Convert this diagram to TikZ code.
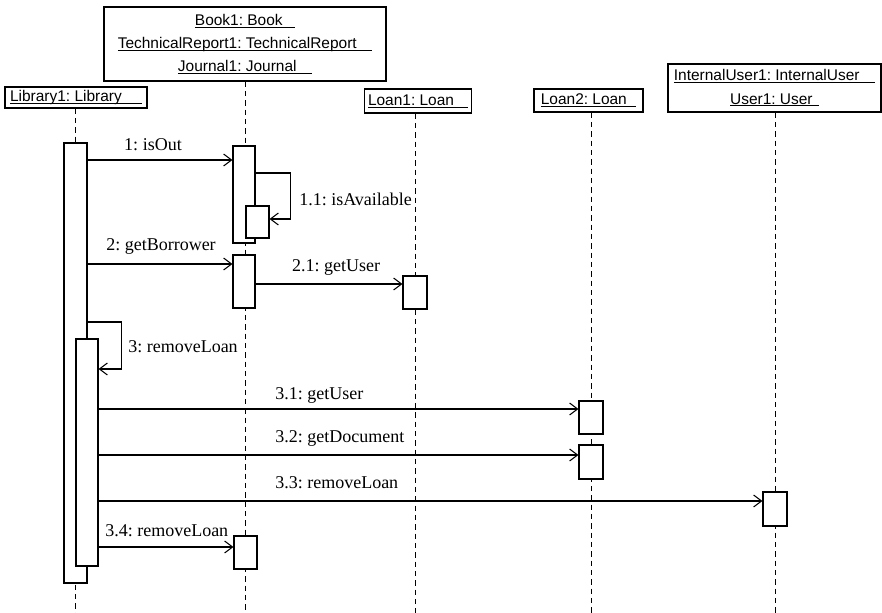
\documentclass[tikz,border=0pt]{standalone}
\usepackage{fontspec}
\setmainfont{Liberation Serif}
\newfontfamily\hdrfont{Liberation Sans}
\usetikzlibrary{arrows.meta}
\frenchspacing
\newsavebox\ulbox
\newcommand\ulx[2]{\sbox\ulbox{#1\hspace{#2}}\leavevmode\rlap{\rule[-1.6pt]{\wd\ulbox}{0.6pt}}\usebox\ulbox}
\begin{document}
\begin{tikzpicture}[x=0.75pt,y=-0.75pt,
  obj/.style={draw, line width=0.8pt, inner sep=0pt, align=center,
    font=\hdrfont\frenchspacing\fontsize{11.6}{17.4}\selectfont},
  act/.style={draw, fill=white, line width=0.8pt, minimum width=23*0.75pt, inner sep=0pt},
  life/.style={line width=0.7pt, dash pattern=on 4pt off 3pt},
  msg/.style={line width=0.8pt, -{Straight Barb[length=6pt,width=9pt]}},
  lbl/.style={font=\frenchspacing\fontsize{13.5}{16}\selectfont, inner sep=0pt, anchor=base west},
  clbl/.style={lbl, anchor=base}]
\useasboundingbox (0,0) rectangle (882,613);
% object headers
\node[obj, minimum width=282*0.75pt, minimum height=74*0.75pt] (book) at (245,44)
  {\ulx{Book1: Book}{0.8em}\\\ulx{TechnicalReport1: TechnicalReport}{1em}\\\ulx{Journal1: Journal}{1em}};
\node[obj, minimum width=142*0.75pt, minimum height=21*0.75pt] (lib) at (76,97.5) {\ulx{Library1: Library}{1.3em}};
\node[obj, minimum width=107*0.75pt, minimum height=24*0.75pt] (loan1) at (418,101) {\ulx{Loan1: Loan}{0.9em}};
\node[obj, minimum width=109*0.75pt, minimum height=23*0.75pt] (loan2) at (588.5,100.5) {\ulx{Loan2: Loan}{0.6em}};
\node[obj, minimum width=213*0.75pt, minimum height=48*0.75pt] (user) at (774.5,88) {\ulx{InternalUser1: InternalUser}{1em}\\\ulx{User1: User}{0.4em}};
% lifeline x positions
\coordinate (xlib) at (75,0);
\coordinate (xbook) at (245,0);
\coordinate (xloan1) at (415,0);
\coordinate (xloan2) at (591,0);
\coordinate (xuser) at (775,0);
% lifelines
\draw[life] (xlib |- lib.south) -- (xlib |- 0,613);
\draw[life] (xbook |- book.south) -- (xbook |- 0,613);
\draw[life] (xloan1 |- loan1.south) -- (xloan1 |- 0,613);
\draw[life] (xloan2 |- loan2.south) -- (xloan2 |- 0,613);
\draw[life] (xuser |- user.south) -- (xuser |- 0,613);
% activations
\node[act, minimum height=440*0.75pt] (libA) at (75.5,363) {};
\node[act, minimum height=227*0.75pt, minimum width=22*0.75pt] (libB) at (87,452.5) {};
\node[act, minimum height=97*0.75pt, minimum width=22*0.75pt] (bookA1) at (244,194.5) {};
\node[act, minimum height=32*0.75pt] (bookB) at (257.5,222) {};
\node[act, minimum height=53*0.75pt, minimum width=22*0.75pt] (bookA2) at (244,281.5) {};
\node[act, minimum height=33*0.75pt, minimum width=24*0.75pt] (loan1A) at (415,292.5) {};
\node[act, minimum height=33*0.75pt, minimum width=24*0.75pt] (loan2A) at (591,417.5) {};
\node[act, minimum height=34*0.75pt, minimum width=24*0.75pt] (loan2B) at (591,462) {};
\node[act, minimum height=34*0.75pt, minimum width=24*0.75pt] (userA) at (775,509) {};
\node[act, minimum height=33*0.75pt] (bookA3) at (245.5,552.5) {};
% messages
\draw[msg] (libA.east |- 0,160) -- (bookA1.west |- 0,160);
\node[clbl] (m1) at (153,151) {1: isOut};
\draw[msg] (bookA1.east |- 0,173) -- ++(35,0) |- (bookB.east |- 0,219);
\node[lbl] (m11) at (299,206) {1.1: isAvailable};
\draw[msg] (libA.east |- 0,264) -- (bookA2.west |- 0,264);
\node[clbl] (m2) at (161,251) {2: getBorrower};
\draw[msg] (bookA2.east |- 0,284) -- (loan1A.west |- 0,284);
\node[clbl] (m21) at (336,272) {2.1: getUser};
\draw[msg] (libA.east |- 0,322) -- ++(34,0) |- (libB.east |- 0,369);
\node[lbl] (m3) at (128,352) {3: removeLoan};
\draw[msg] (libB.east |- 0,409) -- (loan2A.west |- 0,409);
\node[lbl] (m31) at (275,399) {3.1: getUser};
\draw[msg] (libB.east |- 0,455) -- (loan2B.west |- 0,455);
\node[lbl] (m32) at (275,442) {3.2: getDocument};
\draw[msg] (libB.east |- 0,501) -- (userA.west |- 0,501);
\node[lbl] (m33) at (275,488) {3.3: removeLoan};
\draw[msg] (libB.east |- 0,547) -- (bookA3.west |- 0,547);
\node[lbl] (m34) at (105,536) {3.4: removeLoan};
\end{tikzpicture}
\end{document}
